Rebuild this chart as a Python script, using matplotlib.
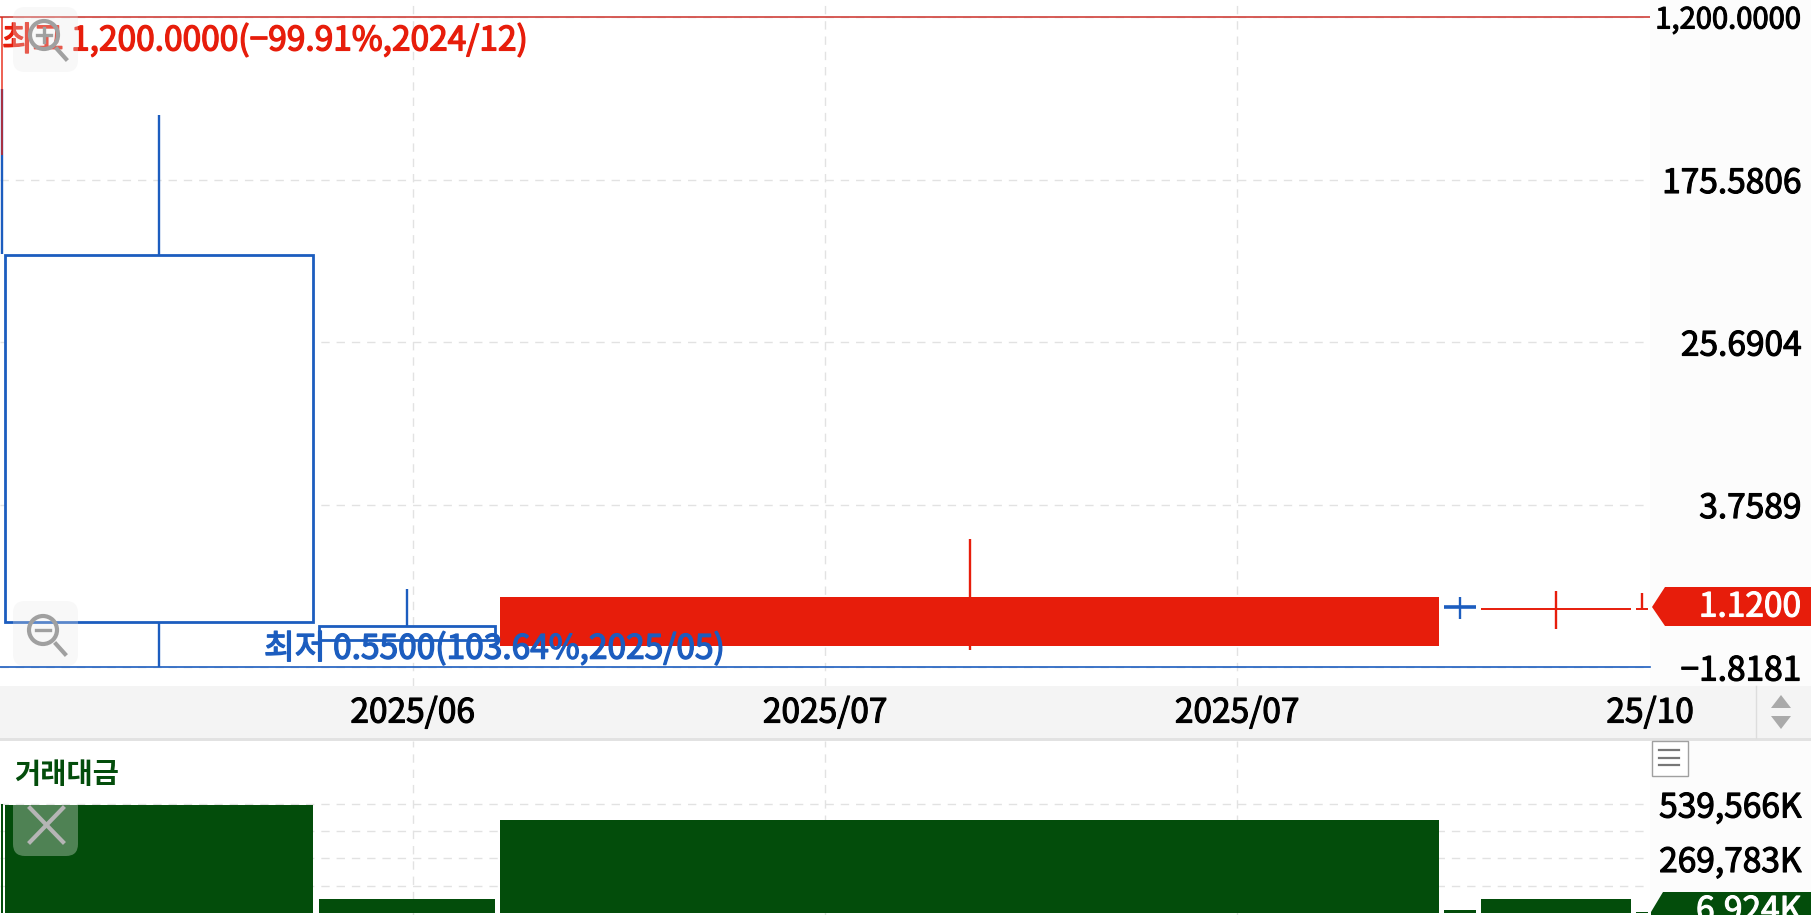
import matplotlib
matplotlib.use("Agg")
import matplotlib.pyplot as plt
import matplotlib.patheffects as pe
from matplotlib.patches import Circle, FancyBboxPatch, Polygon, Rectangle

plt.rcParams["font.family"] = ["Noto Sans CJK KR", "DejaVu Sans"]

# equivolume candles: left edge and width are the volume scale of the x axis
candle_left = [0.75, 0.75, 4.5, 318.5, 500, 1444, 1481, 1636]
candle_width = [2.5, 2.5, 308.5, 176.5, 939, 32, 150, 12]
price_open = [235, 512, 72.3, 0.8976, 0.705, 1.125, 1.09, 1.09]
price_close = [1200, 72.6, 0.933, 0.757, 1.259, 1.12, 1.09, 1.09]
price_high = [1200, 512, 376, 1.384, 2.49, 1.259, 1.35, 1.32]
price_low = [235, 72.6, 0.55, 0.757, 0.672, 0.97, 0.858, 1.09]
turnover = [539566, 539566, 534600, 69300, 460350, 14850, 70800, 6924]

price_ticks = [1200, 175.5806, 25.6904, 3.7589, 0.55]
price_tick_labels = ["1,200.0000", "175.5806", "25.6904", "3.7589", "−1.8181"]
turnover_ticks = [539566, 269783]
turnover_tick_labels = ["539,566K", "269,783K"]
turnover_grid = [539566, 404674, 269783, 134891]
date_ticks = [412.5, 825, 1237, 1650]
date_labels = ["2025/06", "2025/07", "2025/07", "25/10"]

RED = "#e71d0b"
BLUE = "#1c5dbf"
GREEN = "#034d0b"
GRID = "#e2e2e2"
W, H = 1811, 915
PLOT_R = 1650
FONT = 24.1


def pane(top, bottom, right=PLOT_R):
    return fig.add_axes([0, 1 - bottom / H, right / W, (bottom - top) / H])


def heavier(txt, color, width=1.0):
    # no medium weight installed, thicken the regular one a little
    txt.set_path_effects([pe.withStroke(linewidth=width, foreground=color)])


def right_ticks(ax, ticks, labels):
    ax.set_yticks(ticks)
    ax.set_yticklabels(labels)
    ax.minorticks_off()
    ax.yaxis.tick_right()
    ax.tick_params(axis="y", which="both", length=0, pad=109, labelsize=FONT)
    for t in ax.yaxis.get_major_ticks():
        t.label2.set_ha("right")
        heavier(t.label2, "black", 0.8)


fig = plt.figure(figsize=(W / 100, H / 100), dpi=100, facecolor="#fcfcfc")

# price pane
ax = pane(0, 686)
ax.set_yscale("log")
ax.set_xlim(0, PLOT_R)
ax.set_ylim(0.4396, 1467)
ax.set_xticks(date_ticks[:3])
ax.set_xticklabels([])
ax.tick_params(axis="x", length=0)
right_ticks(ax, price_ticks, price_tick_labels)
# the top label is set smaller in the original
ax.yaxis.get_major_ticks()[0].label2.set_fontsize(21)
ax.grid(True, color=GRID, lw=1, ls=(0, (6, 5)))
ax.set_axisbelow(True)
for s in ax.spines.values():
    s.set_visible(False)

ax.axhline(price_ticks[0], color="#d0403a", lw=1.2, zorder=2)
ax.axhline(price_ticks[-1], color=BLUE, lw=1.2, zorder=2, clip_on=False)

for i in range(len(candle_left)):
    x0, w = candle_left[i], candle_width[i]
    o, c = price_open[i], price_close[i]
    col = RED if c >= o else BLUE
    mid = x0 + w / 2
    if i == 0:
        # the red wick runs on top of the blue one
        ax.vlines(mid, price_low[i], price_high[i], color=col, lw=1.4, alpha=0.7, zorder=4, clip_on=False)
        continue
    ax.vlines(mid, price_low[i], price_high[i], color=col, lw=1.7, zorder=3)
    if abs(c / o - 1) < 0.01:
        ax.hlines(o, x0, x0 + w, color=col, lw=2.6 if i == 5 else 1.4, zorder=3)
    elif c > o:
        ax.bar(x0, c - o, w, bottom=o, align="edge", color=col, zorder=3)
    elif w > 5:
        ax.bar(x0, c - o, w, bottom=o, align="edge", facecolor="white", edgecolor=col, lw=2, zorder=3)

t = ax.text(2, 1200 * 0.754, "최고 1,200.0000(−99.91%,2024/12)", color=RED, fontsize=FONT,
            ha="left", va="center", zorder=6)
heavier(t, RED)
t = ax.text(264, 0.68, "최저 0.5500(103.64%,2025/05)", color=BLUE, fontsize=FONT,
            ha="left", va="center", zorder=6)
heavier(t, BLUE)

# date strip
ax_date = pane(686, 739, W)
ax_date.set_facecolor("#f4f4f4")
ax_date.set_xlim(0, W)
ax_date.set_ylim(0, 1)
ax_date.set_yticks([])
ax_date.set_xticks(date_ticks)
ax_date.set_xticklabels(date_labels, fontsize=FONT)
ax_date.tick_params(axis="x", length=0, direction="in", pad=-18.7)
for t in ax_date.xaxis.get_major_ticks():
    t.label1.set_va("center")
    heavier(t.label1, "black", 0.8)
for s in ax_date.spines.values():
    s.set_visible(False)

# turnover pane
ax_v = pane(741, 915)
ax_v.set_xlim(0, PLOT_R)
ax_v.set_ylim(-9900, 851400)
ax_v.set_xticks(date_ticks[:3])
ax_v.set_xticklabels([])
ax_v.tick_params(axis="x", length=0)
right_ticks(ax_v, turnover_ticks, turnover_tick_labels)
ax_v.xaxis.grid(True, color=GRID, lw=1, ls=(0, (6, 5)))
ax_v.hlines(turnover_grid, 0, 1648, color=GRID, lw=1, ls=(0, (6, 5)), zorder=1)
ax_v.set_axisbelow(True)
for s in ax_v.spines.values():
    s.set_visible(False)
ax_v.bar(candle_left, turnover, candle_width, align="edge", color=GREEN, zorder=3)
ax_v.text(14, 683000, "거래대금", color=GREEN, fontsize=20.5, fontweight="bold", ha="left", va="center")

# chart chrome, in pixel coordinates
ov = fig.add_axes([0, 0, 1, 1], facecolor="none")
ov.set_xlim(0, W)
ov.set_ylim(H, 0)
ov.axis("off")

ov.add_patch(Rectangle((0, 738), W, 3, color="#e2e2e2", lw=0))
ov.plot([1756, 1756], [686, 738], color="#dddddd", lw=1)
ov.add_patch(Polygon([(1771, 708), (1781, 695), (1791, 708)], color="#aaaaaa", lw=0))
ov.add_patch(Polygon([(1771, 716), (1781, 729), (1791, 716)], color="#aaaaaa", lw=0))

# last value flags
ov.add_patch(Polygon([(1652, 607), (1665, 587), (W, 587), (W, 626), (1665, 626)], color=RED, lw=0))
t = ov.text(1801, 607, "1.1200", color="white", fontsize=FONT, ha="right", va="center")
heavier(t, "white", 0.8)
ov.add_patch(Polygon([(1651, 912), (1663, 892), (W, 892), (W, H), (1651, H)], color=GREEN, lw=0))
t = ov.text(1801, 911, "6,924K", color="white", fontsize=FONT, ha="right", va="center")
heavier(t, "white", 0.8)

# panel menu button
ov.add_patch(Rectangle((1651.5, 740.5), 36, 35, facecolor="white", edgecolor="#a0a0a0", lw=1))
for yy in (750, 757.5, 765):
    ov.plot([1659, 1679], [yy, yy], color="#777777", lw=1.6)

# overlay buttons
for top, fill in ((7, "#e8e8e8"), (601, "#e8e8e8"), (791, "white")):
    ov.add_patch(FancyBboxPatch((21, top + 8), 49, 49, boxstyle="round,pad=8,rounding_size=12",
                                facecolor=fill, edgecolor="none", alpha=0.3, zorder=8))
for cx, cy in ((44, 35), (43, 630)):
    ov.add_patch(Circle((cx, cy), 14, facecolor="none", edgecolor="#a0a0a0", lw=3, zorder=9))
    ov.plot([cx + 13, cx + 22], [cy + 14, cy + 24], color="#a0a0a0", lw=3, zorder=9)
    ov.plot([cx - 7, cx + 7], [cy, cy], color="#a0a0a0", lw=2.4, zorder=9)
ov.plot([44, 44], [28, 42], color="#a0a0a0", lw=2.4, zorder=9)
ov.plot([30, 63], [808, 842], color="#b5b5b5", lw=3, zorder=9)
ov.plot([63, 30], [808, 842], color="#b5b5b5", lw=3, zorder=9)

fig.savefig("out.png", dpi=100, facecolor=fig.get_facecolor())
